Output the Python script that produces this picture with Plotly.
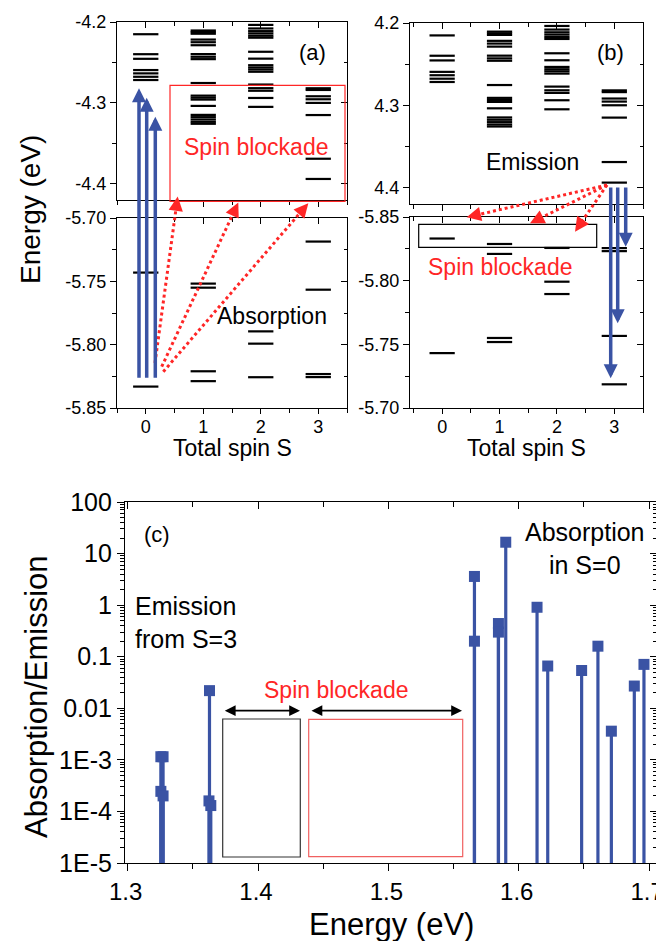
import plotly.graph_objects as go

# ---------------- data ----------------
spins = [0, 1, 2, 3]
spin_labels = ["0", "1", "2", "3"]

# upper manifold energy levels (eV) per total spin
upper_s0 = [-4.2151, -4.2398, -4.2455, -4.2594, -4.2635, -4.2677, -4.2717]
upper_s1 = [-4.2105, -4.2125, -4.2145, -4.2217, -4.2250, -4.2287, -4.2397, -4.2430,
            -4.2459, -4.2754, -4.2910, -4.2935, -4.2959, -4.3037, -4.3148, -4.3176,
            -4.3205, -4.3234, -4.3258]
upper_s2 = [-4.2036, -4.2080, -4.2113, -4.2141, -4.2170, -4.2194, -4.2368, -4.2453,
            -4.2534, -4.2562, -4.2587, -4.2615, -4.2773, -4.2818, -4.2850, -4.2939,
            -4.3049]
upper_s3 = [-4.2819, -4.2840, -4.2918, -4.2955, -4.3000, -4.3150, -4.3690, -4.3940]

# lower manifold energy levels (eV) per total spin
lower_s0 = [-5.7431, -5.8331]
lower_s1 = [-5.7518, -5.7550, -5.8210, -5.8288]
lower_s2 = [-5.7895, -5.7992, -5.8257]
lower_s3 = [-5.7186, -5.7566, -5.8232, -5.8256]

# panel (c) spectrum
spec_energy = [1.3255, 1.3272, 1.3255, 1.3272, 1.3628, 1.3624, 1.3638,
               1.5660, 1.5660, 1.5844, 1.5844, 1.5900, 1.6140, 1.6222,
               1.6482, 1.6607, 1.6710, 1.6886, 1.6960]
spec_value = [1.15e-3, 1.15e-3, 2.45e-4, 2.0e-4, 0.022, 1.6e-4, 1.3e-4,
              3.6, 0.20, 0.44, 0.30, 16.6, 0.91, 0.066,
              0.054, 0.16, 3.6e-3, 0.027, 0.071]
spec_floor = 1e-5

c_yticks = [100, 10, 1, 0.1, 0.01, 1e-3, 1e-4, 1e-5]
c_yticktext = ["100", "10", "1", "0.1", "0.01", "1E-3", "1E-4", "1E-5"]
c_xticks = [1.3, 1.4, 1.5, 1.6, 1.7]
c_xticktext = ["1.3", "1.4", "1.5", "1.6", "1.7"]

a_up_ticks = [-4.2, -4.3, -4.4]
a_up_text = ["-4.2", "-4.3", "-4.4"]
b_up_text = ["4.2", "4.3", "4.4"]
lo_ticks = [-5.70, -5.75, -5.80, -5.85]
lo_text = ["-5.70", "-5.75", "-5.80", "-5.85"]

# minor ticks of the log axis (2..9 per decade)
c_minor = [k * 10.0 ** d for d in range(-5, 2) for k in range(2, 10)]

# ---------------- style ----------------
OFF = 8                      # page body margin of the html page
W, H = 664 - OFF, 941 - OFF
FONT = "Liberation Sans, Arial, sans-serif"
BLUE = "#3a53a4"
RED = "#ff2626"
HALF = 0.22  # half width of a level bar (in spin units)


def px(x):
    return (x - OFF) / W


def py(y):
    return 1 - (y - OFF) / H


fig = go.Figure()


def level_trace(levels_by_spin, xa, ya):
    xs, ys = [], []
    for s, lv in zip(spins, levels_by_spin):
        for e in lv:
            xs += [s - HALF, s + HALF, None]
            ys += [e, e, None]
    return go.Scatter(x=xs, y=ys, mode="lines", line=dict(color="black", width=2.2),
                      xaxis=xa, yaxis=ya, showlegend=False, hoverinfo="skip")


upper_all = [upper_s0, upper_s1, upper_s2, upper_s3]
lower_all = [lower_s0, lower_s1, lower_s2, lower_s3]

fig.add_trace(level_trace(upper_all, "x", "y"))
fig.add_trace(level_trace(lower_all, "x2", "y2"))
fig.add_trace(level_trace(upper_all, "x3", "y3"))
fig.add_trace(level_trace(lower_all, "x4", "y4"))

# stems
sx, sy = [], []
for e, v in zip(spec_energy, spec_value):
    sx += [e, e, None]
    sy += [spec_floor, v, None]
fig.add_trace(go.Scatter(x=sx, y=sy, mode="lines", line=dict(color=BLUE, width=3.2),
                         xaxis="x5", yaxis="y5", showlegend=False, hoverinfo="skip"))
fig.add_trace(go.Scatter(x=spec_energy, y=spec_value, mode="markers",
                         marker=dict(symbol="square", size=11, color=BLUE),
                         xaxis="x5", yaxis="y5", showlegend=False, hoverinfo="skip"))

# overlay dummy traces for mirrored inside ticks
for i in range(6, 11):
    fig.add_trace(go.Scatter(x=[None], y=[None], xaxis=f"x{i}", yaxis=f"y{i}",
                             showlegend=False, hoverinfo="skip"))

TL = 6
MTL = 3.5
tickfont_s = dict(family=FONT, size=18, color="black")
tickfont_c = dict(family=FONT, size=25, color="black")
tickfont_cx = dict(family=FONT, size=24, color="black")


def base_axis(**kw):
    d = dict(showgrid=False, zeroline=False, showline=True, linecolor="black",
             linewidth=1.2, ticks="outside", ticklen=TL, tickwidth=1.2,
             tickcolor="black", mirror=True, automargin=False, ticklabeloverflow="allow")
    d.update(kw)
    return d


def overlay_axis(over, side, anchor, **kw):
    d = dict(overlaying=over, side=side, anchor=anchor, showgrid=False, zeroline=False,
             showline=False, ticks="inside", ticklen=TL, tickwidth=1.2,
             tickcolor="black", showticklabels=False, automargin=False)
    d.update(kw)
    return d


panels = {
    1: dict(xd=(117, 347), yd=(22, 200)),
    2: dict(xd=(117, 347), yd=(218, 408)),
    3: dict(xd=(410, 643), yd=(23, 204)),
    4: dict(xd=(410, 643), yd=(217, 408)),
    5: dict(xd=(125, 657), yd=(502, 863)),
}


def dom(p):
    xd, yd = panels[p]["xd"], panels[p]["yd"]
    return [px(xd[0]), px(xd[1])], [py(yd[1]), py(yd[0])]


lay = {}
xr_a = [-0.5, 3.5]
xr_b = [-0.56, 3.5]
minor_x = dict(dtick=0.5, ticks="outside", ticklen=MTL, tickcolor="black")
minor_x_in = dict(dtick=0.5, ticks="inside", ticklen=MTL, tickcolor="black")

# panel (a) upper
xd, yd = dom(1)
lay["xaxis"] = base_axis(domain=xd, anchor="y", range=xr_a, tickvals=spins,
                         showticklabels=False, minor=minor_x)
lay["yaxis"] = base_axis(domain=yd, anchor="x", range=[-4.42, -4.2], tickvals=a_up_ticks,
                         ticktext=a_up_text, tickfont=tickfont_s,
                         minor=dict(dtick=0.05, ticks="outside", ticklen=MTL, tickcolor="black"))
# panel (a) lower
xd, yd = dom(2)
lay["xaxis2"] = base_axis(domain=xd, anchor="y2", range=xr_a, tickvals=spins, ticklen=5,
                          ticktext=spin_labels, tickfont=tickfont_s, minor=minor_x,
                          ticklabelstandoff=-3)
lay["yaxis2"] = base_axis(domain=yd, anchor="x2", range=[-5.85, -5.70], tickvals=lo_ticks,
                          ticktext=lo_text, tickfont=tickfont_s,
                          minor=dict(dtick=0.025, ticks="outside", ticklen=MTL, tickcolor="black"))
# panel (b) upper
xd, yd = dom(3)
lay["xaxis3"] = base_axis(domain=xd, anchor="y3", range=xr_b, tickvals=spins,
                          showticklabels=False, minor=minor_x)
lay["yaxis3"] = base_axis(domain=yd, anchor="x3", range=[-4.42, -4.2], tickvals=a_up_ticks,
                          ticktext=b_up_text, tickfont=tickfont_s,
                          minor=dict(dtick=0.05, ticks="outside", ticklen=MTL, tickcolor="black"))
# panel (b) lower (reversed)
xd, yd = dom(4)
lay["xaxis4"] = base_axis(domain=xd, anchor="y4", range=xr_b, tickvals=spins, ticklen=5,
                          ticktext=spin_labels, tickfont=tickfont_s, minor=minor_x,
                          ticklabelstandoff=-3)
lay["yaxis4"] = base_axis(domain=yd, anchor="x4", range=[-5.70, -5.85], tickvals=lo_ticks,
                          ticktext=lo_text, tickfont=tickfont_s,
                          minor=dict(dtick=0.025, ticks="outside", ticklen=MTL, tickcolor="black"))
# panel (c)
xd, yd = dom(5)
lay["xaxis5"] = base_axis(domain=xd, anchor="y5", range=[1.298, 1.706], tickvals=c_xticks,
                          ticktext=c_xticktext, tickfont=tickfont_cx, ticklen=7,
                          ticklabelshift=-2,
                          minor=dict(dtick=0.05, ticks="outside", ticklen=5, tickcolor="black"))
lay["yaxis5"] = base_axis(domain=yd, anchor="x5", type="log", range=[-5, 2],
                          tickvals=c_yticks, ticktext=c_yticktext, tickfont=tickfont_c,
                          ticklen=7,
                          minor=dict(tickvals=c_minor, ticks="outside", ticklen=4,
                                     tickcolor="black"))

# overlays (top / right inside ticks)
ranges = {1: (xr_a, [-4.42, -4.2]), 2: (xr_a, [-5.85, -5.70]), 3: (xr_b, [-4.42, -4.2]),
          4: (xr_b, [-5.70, -5.85])}
ytv = {1: a_up_ticks, 2: lo_ticks, 3: a_up_ticks, 4: lo_ticks}
ymd = {1: 0.05, 2: 0.025, 3: 0.05, 4: 0.025}
for p in range(1, 5):
    o = p + 5
    xr, yr = ranges[p]
    sfx = "" if p == 1 else str(p)
    lay[f"xaxis{o}"] = overlay_axis(f"x{sfx}", "top", f"y{o}", range=xr, tickvals=spins,
                                    minor=minor_x_in)
    lay[f"yaxis{o}"] = overlay_axis(f"y{sfx}", "right", f"x{o}", range=yr, tickvals=ytv[p],
                                    minor=dict(dtick=ymd[p], ticks="inside", ticklen=MTL,
                                               tickcolor="black"))
lay["xaxis10"] = overlay_axis("x5", "top", "y10", range=[1.298, 1.706], tickvals=c_xticks,
                              ticklen=7,
                              minor=dict(dtick=0.05, ticks="inside", ticklen=5, tickcolor="black"))
lay["yaxis10"] = overlay_axis("y5", "right", "x10", type="log", range=[-5, 2],
                              tickvals=c_yticks, ticklen=7,
                              minor=dict(tickvals=c_minor, ticks="inside", ticklen=4,
                                         tickcolor="black"))

fig.update_layout(**lay)

# ---------------- annotations & shapes ----------------
ann = []
shapes = []


def text(x, y, t, size, color="black", angle=0, align="center", xanchor="center"):
    ann.append(dict(x=px(x), y=py(y), xref="paper", yref="paper", text=t, showarrow=False,
                    font=dict(family=FONT, size=size, color=color), textangle=angle,
                    align=align, xanchor=xanchor, yanchor="middle"))


def solid_arrow(tail, head, color, width, size=1.0, side="end", head_style=2):
    ann.append(dict(x=px(head[0]), y=py(head[1]), xref="paper", yref="paper",
                    ax=tail[0] - head[0], ay=tail[1] - head[1], axref="pixel", ayref="pixel",
                    text="", showarrow=True, arrowhead=head_style, arrowsize=size,
                    arrowwidth=width, arrowcolor=color, arrowside=side,
                    startarrowhead=head_style, startarrowsize=size, standoff=0,
                    startstandoff=0))


def dotted_arrow(tail, head):
    dx, dy = tail[0] - head[0], tail[1] - head[1]
    L = (dx * dx + dy * dy) ** 0.5
    ux, uy = dx / L, dy / L
    shapes.append(dict(type="line", xref="paper", yref="paper", x0=px(tail[0]), y0=py(tail[1]),
                       x1=px(head[0] + ux * 6), y1=py(head[1] + uy * 6),
                       line=dict(color=RED, width=3, dash="dot")))
    ann.append(dict(x=px(head[0]), y=py(head[1]), xref="paper", yref="paper",
                    ax=ux * 9, ay=uy * 9, axref="pixel", ayref="pixel", text="",
                    showarrow=True, arrowhead=2, arrowsize=1.3, arrowwidth=2.2,
                    arrowcolor=RED, standoff=0))


def rect(x0, y0, x1, y1, color, width=1.2):
    shapes.append(dict(type="rect", xref="paper", yref="paper", x0=px(x0), x1=px(x1),
                       y0=py(y1), y1=py(y0), line=dict(color=color, width=width)))


# panel labels / titles
text(312, 52, "(a)", 22)
text(610, 52, "(b)", 22)
text(157, 534, "(c)", 22)
text(30, 210, "Energy (eV)", 28, angle=-90)
text(232, 448, "Total spin S", 23)
text(526, 448, "Total spin S", 23)
text(36, 697, "Absorption/Emission", 31, angle=-90)
text(391, 924, "Energy (eV)", 31)

# panel (a)
rect(170, 85.3, 345, 201.3, RED, 1.2)
text(256, 147, "Spin blockade", 23, RED)
text(272, 316, "Absorption", 23)
for xx, hy in [(139, 88.3), (146.7, 97.7), (155.3, 116.7)]:
    solid_arrow((xx, 379.3), (xx, hy), BLUE, 3.5, size=0.8)
for tail, head in [((155, 363), (177.7, 196.5)), ((161.7, 366.7), (238.3, 202.5)),
                   ((163.3, 371.7), (308.3, 203.3))]:
    dotted_arrow(tail, head)

# panel (b)
rect(418.7, 224.3, 596.7, 247.3, "black", 1.2)
text(500, 267, "Spin blockade", 23, RED)
text(532, 162, "Emission", 23)
for xx, hy in [(610.7, 378.3), (617.7, 323.3), (625.7, 246.7)]:
    solid_arrow((xx, 186), (xx, hy), BLUE, 3.5, size=0.8)
for head in [(466.7, 217.3), (530, 223.3), (575, 231.7)]:
    dotted_arrow((607, 185), head)

# panel (c)
text(133, 622, "Emission<br>from S=3", 25, align="left", xanchor="left")
text(585, 548, "Absorption<br>in S=0", 25)
text(336, 690, "Spin blockade", 23, RED)
solid_arrow((223.3, 710.7), (300, 710.7), "black", 1.8, size=1.2, side="end+start")
solid_arrow((310, 710.7), (462, 710.7), "black", 1.8, size=1.2, side="end+start")
rect(222.7, 719, 300.3, 857, "#333333", 1.2)
rect(308.7, 719.3, 462.7, 856.7, "#f06060", 1.2)

fig.update_layout(annotations=ann, shapes=shapes, width=W, height=H,
                  margin=dict(l=0, r=0, t=0, b=0), paper_bgcolor="white",
                  plot_bgcolor="white", showlegend=False,
                  font=dict(family=FONT, color="black"))

fig.write_html("out.html")
